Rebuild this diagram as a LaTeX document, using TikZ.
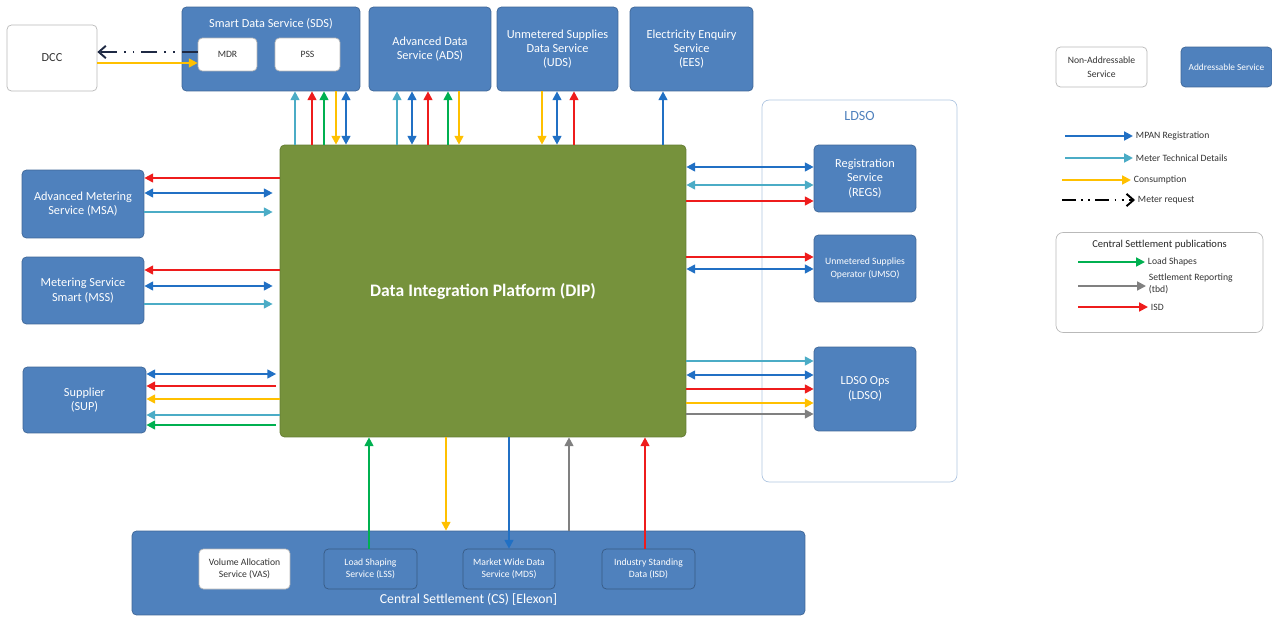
\documentclass[tikz,border=0pt]{standalone}
\usepackage{fontspec}
\setmainfont{Carlito}
\usetikzlibrary{arrows.meta}
\definecolor{svcblue}{HTML}{4F81BD}
\definecolor{dipgreen}{HTML}{76923C}
\definecolor{mpanblue}{HTML}{2170C4}
\definecolor{mtdblue}{HTML}{4BACC6}
\definecolor{consyellow}{HTML}{FFC000}
\definecolor{isdred}{HTML}{EE1C1C}
\definecolor{lsgreen}{HTML}{00B050}
\definecolor{repgray}{HTML}{808080}
\definecolor{reqnavy}{HTML}{1F2A44}

\begin{document}
\begin{tikzpicture}[x=0.02cm, y=-0.02cm,
    addr/.style={draw=svcblue!80!black, fill=svcblue, rounded corners=2.5pt, text=white,
        align=center, inner sep=1pt, font=\fontsize{7}{8.2}\selectfont},
    nonaddr/.style={draw=gray!55, fill=white, rounded corners=2.5pt, text=black!80,
        align=center, inner sep=1pt, font=\fontsize{7}{8.2}\selectfont},
    small/.style={font=\fontsize{5.5}{7}\selectfont},
    legtext/.style={anchor=west, inner sep=1.5pt, text=black!80, align=left,
        font=\fontsize{5.5}{6.5}\selectfont},
    flow/.style={line width=1.1pt},
    mpan/.style={flow, draw=mpanblue},
    mtd/.style={flow, draw=mtdblue},
    cons/.style={flow, draw=consyellow},
    isd/.style={flow, draw=isdred},
    ls/.style={flow, draw=lsgreen},
    rep/.style={flow, draw=repgray},
    fwd/.style={-{Triangle[length=5pt,width=5pt]}},
    back/.style={{Triangle[length=5pt,width=5pt]}-},
    both/.style={{Triangle[length=5pt,width=5pt]}-{Triangle[length=5pt,width=5pt]}},
    request/.style={line width=1.1pt, draw=reqnavy,
        dash pattern=on 9pt off 4pt on 1pt off 4pt on 1pt off 4pt,
        -{Straight Barb[length=4pt,width=7pt]}}
]
    \useasboundingbox (0,0) rectangle (1272,619);

    % services along the top
    \node[nonaddr, minimum width=1.8cm, minimum height=1.32cm] (dcc) at (52,58) {DCC};
    \node[addr, minimum width=3.56cm, minimum height=1.68cm,
        label={[white, anchor=north, yshift=-3pt, font=\fontsize{7}{8}\selectfont]north:Smart Data Service (SDS)}]
        (sds) at (271,49) {};
    \node[nonaddr, small, minimum width=1.18cm, minimum height=0.66cm] (mdr) at (227.5,54.5) {MDR};
    \node[nonaddr, small, minimum width=1.3cm, minimum height=0.66cm] (pss) at (307.5,54.5) {PSS};
    \node[addr, minimum width=2.44cm, minimum height=1.68cm] (ads) at (430,49) {Advanced Data\\Service (ADS)};
    \node[addr, minimum width=2.42cm, minimum height=1.68cm] (uds) at (557.5,49) {Unmetered Supplies\\Data Service\\(UDS)};
    \node[addr, minimum width=2.46cm, minimum height=1.68cm] (ees) at (691.5,49) {Electricity Enquiry\\Service\\(EES)};

    % platform
    \node[draw=dipgreen!85!black, fill=dipgreen, rounded corners=2.5pt, text=white,
        minimum width=8.12cm, minimum height=5.84cm, font=\fontsize{10}{12}\selectfont\bfseries]
        (dip) at (483,291) {Data Integration Platform (DIP)};

    % left hand services
    \node[addr, minimum width=2.44cm, minimum height=1.36cm] (msa) at (83,204) {Advanced Metering\\Service (MSA)};
    \node[addr, minimum width=2.44cm, minimum height=1.34cm] (mss) at (83,290.5) {Metering Service\\Smart (MSS)};
    \node[addr, minimum width=2.46cm, minimum height=1.32cm] (sup) at (84.5,400) {Supplier\\(SUP)};

    % LDSO group
    \node[draw=svcblue!45, rounded corners=4pt, minimum width=3.9cm, minimum height=7.64cm,
        label={[svcblue, anchor=north, yshift=-3pt, font=\fontsize{8}{9}\selectfont]north:LDSO}]
        (ldsogrp) at (859.5,291) {};
    \node[addr, minimum width=2.04cm, minimum height=1.34cm] (regs) at (865,178.5) {Registration\\Service\\(REGS)};
    \node[addr, small, minimum width=2.04cm, minimum height=1.34cm] (umso) at (865,268.5) {Unmetered Supplies\\Operator (UMSO)};
    \node[addr, minimum width=2.04cm, minimum height=1.68cm] (ldso) at (865,389) {LDSO Ops\\(LDSO)};

    % central settlement
    \node[addr, minimum width=13.46cm, minimum height=1.68cm,
        label={[white, anchor=south, yshift=2pt, font=\fontsize{7.8}{9}\selectfont]south:Central Settlement (CS) [Elexon]}]
        (cs) at (468.5,573) {};
    \node[nonaddr, small, minimum width=1.82cm, minimum height=0.8cm] (vas) at (244.5,569) {Volume Allocation\\Service (VAS)};
    \node[addr, small, draw=svcblue!70!black, minimum width=1.86cm, minimum height=0.8cm] (lss) at (370.5,569) {Load Shaping\\Service (LSS)};
    \node[addr, small, draw=svcblue!70!black, minimum width=1.84cm, minimum height=0.8cm] (mds) at (509,569) {Market Wide Data\\Service (MDS)};
    \node[addr, small, draw=svcblue!70!black, minimum width=1.86cm, minimum height=0.8cm] (isdnode) at (648.5,569) {Industry Standing\\Data (ISD)};

    % DCC <-> SDS
    \draw[request] (mdr.west |- 0,52) -- (dcc.east |- 0,52);
    \draw[cons, fwd] (dcc.east |- 0,63) -- (mdr.west |- 0,63);

    % DIP <-> top services
    \draw[mtd, fwd] (dip.north -| 295,0) -- (sds.south -| 295,0);
    \draw[isd, fwd] (dip.north -| 312,0) -- (sds.south -| 312,0);
    \draw[ls, fwd] (dip.north -| 324,0) -- (sds.south -| 324,0);
    \draw[cons, back] (dip.north -| 336,0) -- (sds.south -| 336,0);
    \draw[mpan, both] (dip.north -| 346,0) -- (sds.south -| 346,0);
    \draw[mtd, fwd] (dip.north -| 397,0) -- (ads.south -| 397,0);
    \draw[mpan, both] (dip.north -| 412,0) -- (ads.south -| 412,0);
    \draw[isd, fwd] (dip.north -| 428,0) -- (ads.south -| 428,0);
    \draw[ls, fwd] (dip.north -| 448,0) -- (ads.south -| 448,0);
    \draw[cons, back] (dip.north -| 459,0) -- (ads.south -| 459,0);
    \draw[cons, back] (dip.north -| 542,0) -- (uds.south -| 542,0);
    \draw[mpan, both] (dip.north -| 557,0) -- (uds.south -| 557,0);
    \draw[isd, fwd] (dip.north -| 574,0) -- (uds.south -| 574,0);
    \draw[mpan, fwd] (dip.north -| 663,0) -- (ees.south -| 663,0);

    % DIP <-> left services
    \draw[isd, fwd] (dip.west |- 0,178) -- (msa.east |- 0,178);
    \draw[mpan, both, shorten <=4pt] (dip.west |- 0,193) -- (msa.east |- 0,193);
    \draw[mtd, back, shorten <=4pt] (dip.west |- 0,212) -- (msa.east |- 0,212);
    \draw[isd, fwd] (dip.west |- 0,270) -- (mss.east |- 0,270);
    \draw[mpan, both, shorten <=4pt] (dip.west |- 0,286) -- (mss.east |- 0,286);
    \draw[mtd, back, shorten <=4pt] (dip.west |- 0,304) -- (mss.east |- 0,304);
    \draw[mpan, both, shorten <=2pt] (dip.west |- 0,374) -- (sup.east |- 0,374);
    \draw[isd, fwd, shorten <=2pt] (dip.west |- 0,386) -- (sup.east |- 0,386);
    \draw[cons, fwd] (dip.west |- 0,399) -- (sup.east |- 0,399);
    \draw[mtd, fwd] (dip.west |- 0,415) -- (sup.east |- 0,415);
    \draw[ls, fwd, shorten <=2pt] (dip.west |- 0,425) -- (sup.east |- 0,425);

    % DIP <-> LDSO
    \draw[mpan, both] (dip.east |- 0,167) -- (regs.west |- 0,167);
    \draw[mtd, both] (dip.east |- 0,185) -- (regs.west |- 0,185);
    \draw[isd, fwd] (dip.east |- 0,201) -- (regs.west |- 0,201);
    \draw[isd, fwd] (dip.east |- 0,257) -- (umso.west |- 0,257);
    \draw[mpan, both] (dip.east |- 0,269) -- (umso.west |- 0,269);
    \draw[mtd, fwd] (dip.east |- 0,361) -- (ldso.west |- 0,361);
    \draw[mpan, both] (dip.east |- 0,375) -- (ldso.west |- 0,375);
    \draw[isd, fwd] (dip.east |- 0,389) -- (ldso.west |- 0,389);
    \draw[cons, fwd] (dip.east |- 0,403) -- (ldso.west |- 0,403);
    \draw[rep, fwd] (dip.east |- 0,414) -- (ldso.west |- 0,414);

    % DIP <-> central settlement
    \draw[ls, fwd] (lss.north -| 369,0) -- (dip.south -| 369,0);
    \draw[cons, fwd] (dip.south -| 446,0) -- (cs.north -| 446,0);
    \draw[mpan, fwd] (dip.south -| 509,0) -- (mds.north -| 509,0);
    \draw[rep, fwd] (cs.north -| 569,0) -- (dip.south -| 569,0);
    \draw[isd, fwd] (isdnode.north -| 645,0) -- (dip.south -| 645,0);

    % key
    \node[nonaddr, font=\fontsize{5.5}{8}\selectfont, minimum width=1.82cm, minimum height=0.8cm]
        (keyna) at (1101.5,67) {Non-Addressable\\Service};
    \node[addr, font=\fontsize{5.3}{6.5}\selectfont, minimum width=1.82cm, minimum height=0.8cm]
        (keyas) at (1226.5,67) {Addressable Service};

    \coordinate (k1s) at (1065,136);
    \node[legtext] (k1) at (1133,136) {MPAN Registration};
    \draw[mpan, fwd] (k1s) -- (k1.west);
    \coordinate (k2s) at (1065,158);
    \node[legtext] (k2) at (1133,158) {Meter Technical Details};
    \draw[mtd, fwd] (k2s) -- (k2.west);
    \coordinate (k3s) at (1062,180);
    \node[legtext] (k3) at (1131,180) {Consumption};
    \draw[cons, fwd] (k3s) -- (k3.west);
    \coordinate (k4s) at (1062,200);
    \node[legtext] (k4) at (1135,200) {Meter request};
    \draw[request, dash pattern=on 8pt off 3pt on 1pt off 3pt on 1pt off 3pt, black] (k4s) -- (k4.west);

    \node[draw=gray!55, rounded corners=4pt, minimum width=4.14cm, minimum height=2cm,
        label={[anchor=north, yshift=-1pt, text=black!85, font=\fontsize{6}{7}\selectfont]north:Central Settlement publications}]
        (keycs) at (1159.5,282.5) {};
    \coordinate (k5s) at (1078,262);
    \node[legtext] (k5) at (1145,262) {Load Shapes};
    \draw[ls, fwd] (k5s) -- (k5.west);
    \coordinate (k6s) at (1078,286);
    \node[legtext] (k6) at (1146,284) {Settlement Reporting\\(tbd)};
    \draw[rep, fwd] (k6s) -- (k6.west |- k6s);
    \coordinate (k7s) at (1078,307);
    \node[legtext] (k7) at (1148,307) {ISD};
    \draw[isd, fwd] (k7s) -- (k7.west);
\end{tikzpicture}
\end{document}
